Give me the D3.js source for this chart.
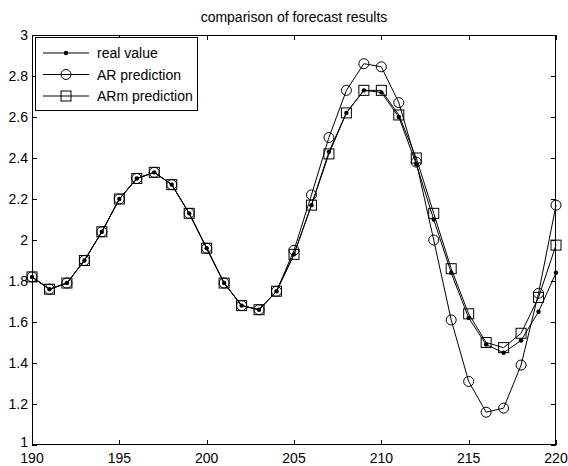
<!DOCTYPE html>
<html><head><meta charset="utf-8">
<script src="https://cdn.jsdelivr.net/npm/d3@7"></script>
<style>body{margin:0;background:#fff}svg{display:block}text{font-family:"Liberation Sans",Arial,sans-serif;fill:#000}</style>
</head><body><svg id="c" width="568" height="466"></svg>
<script>
const xs = d3.range(190, 221);
const realValue = [1.82,1.76,1.79,1.90,2.04,2.20,2.30,2.33,2.27,2.13,1.96,1.79,1.68,1.66,1.75,1.93,2.17,2.43,2.62,2.73,2.72,2.60,2.37,2.10,1.84,1.62,1.49,1.45,1.51,1.65,1.84];
const arPred    = [1.82,1.76,1.79,1.90,2.04,2.20,2.30,2.33,2.27,2.13,1.96,1.79,1.68,1.66,1.75,1.95,2.22,2.50,2.73,2.86,2.845,2.67,2.38,2.00,1.61,1.31,1.16,1.18,1.39,1.74,2.17];
const armPred   = [1.82,1.76,1.79,1.90,2.04,2.20,2.30,2.33,2.27,2.13,1.96,1.79,1.68,1.66,1.75,1.93,2.17,2.42,2.62,2.73,2.73,2.61,2.40,2.13,1.86,1.64,1.50,1.475,1.545,1.72,1.975];
const xTicks = [190,195,200,205,210,215,220];
const yTicks = [1,1.2,1.4,1.6,1.8,2,2.2,2.4,2.6,2.8,3];
const title = "comparison of forecast results";
const legendLabels = ["real value","AR prediction","ARm prediction"];

const L=32,R=556,T=35,B=445;
const svg=d3.select("#c");
const x=d3.scaleLinear().domain([190,220]).range([L,R]);
const y=d3.scaleLinear().domain([1,3]).range([B,T]);

svg.append("text").attr("x",(L+R)/2).attr("y",22).attr("text-anchor","middle").style("font-size","14px").text(title);

// ticks
const g=svg.append("g").attr("stroke","#000").attr("stroke-width",1);
xTicks.forEach(t=>{const px=Math.round(x(t))+0.5;
  g.append("line").attr("x1",px).attr("x2",px).attr("y1",B).attr("y2",B-5);
  g.append("line").attr("x1",px).attr("x2",px).attr("y1",T).attr("y2",T+5);});
yTicks.forEach(t=>{const py=Math.round(y(t))+0.5;
  g.append("line").attr("x1",L).attr("x2",L+5).attr("y1",py).attr("y2",py);
  g.append("line").attr("x1",R).attr("x2",R-5).attr("y1",py).attr("y2",py);});
xTicks.forEach(t=>svg.append("text").attr("x",x(t)).attr("y",B+18).attr("text-anchor","middle").style("font-size","14px").text(t));
yTicks.forEach(t=>svg.append("text").attr("x",L-4).attr("y",y(t)+(t===1?2:5)).attr("text-anchor","end").style("font-size","14px").text(d3.format("")(t)));

const line=d3.line().x((d,i)=>x(xs[i])).y(d=>y(d));
function series(vals,marker){
  svg.append("path").attr("d",line(vals)).attr("fill","none").attr("stroke","#000").attr("stroke-width",1);
  vals.forEach((v,i)=>drawMarker(x(xs[i]),y(v),marker));
}
function drawMarker(cx,cy,m){
  if(m==="dot") svg.append("circle").attr("cx",cx).attr("cy",cy).attr("r",2.2).attr("fill","#000");
  else if(m==="circle") svg.append("circle").attr("cx",cx).attr("cy",cy).attr("r",5).attr("fill","none").attr("stroke","#000").attr("stroke-width",1);
  else svg.append("rect").attr("x",cx-5).attr("y",cy-5).attr("width",10).attr("height",10).attr("fill","none").attr("stroke","#000").attr("stroke-width",1);
}
series(arPred,"circle");
series(armPred,"square");
series(realValue,"dot");

// frame
svg.append("rect").attr("x",L+0.5).attr("y",T+0.5).attr("width",R-L-1).attr("height",B-T-1).attr("fill","none").attr("stroke","#000");

// legend
svg.append("rect").attr("x",35.5).attr("y",37.5).attr("width",162).attr("height",73).attr("fill","#fff").attr("stroke","#000");
const markers=["dot","circle","square"];
legendLabels.forEach((lab,i)=>{const ly=53+i*21.5;
  svg.append("line").attr("x1",43).attr("x2",89).attr("y1",ly).attr("y2",ly).attr("stroke","#000");
  drawMarker(66,ly,markers[i]);
  svg.append("text").attr("x",97).attr("y",ly+5).style("font-size","14px").text(lab);
});
</script></body></html>
